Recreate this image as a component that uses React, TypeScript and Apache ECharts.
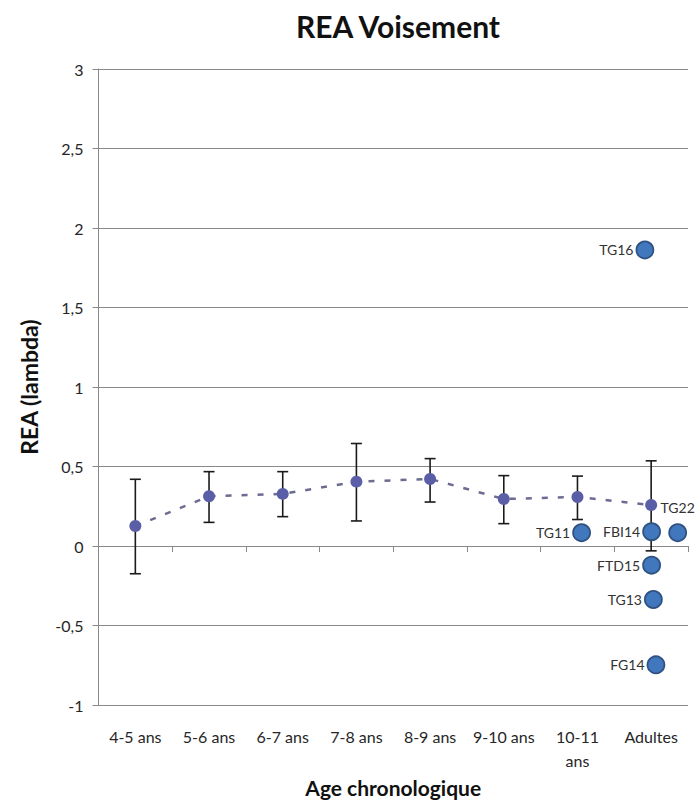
import React, { useEffect, useRef } from "react";
import * as echarts from "echarts";

const categories = ["4-5 ans", "5-6 ans", "6-7 ans", "7-8 ans", "8-9 ans", "9-10 ans", "10-11 ans", "Adultes"];
const means = [0.126, 0.313, 0.328, 0.405, 0.422, 0.296, 0.309, 0.258];
const upperBars = [0.42, 0.468, 0.468, 0.645, 0.55, 0.443, 0.44, 0.536];
const lowerBars = [-0.174, 0.149, 0.185, 0.158, 0.277, 0.141, 0.167, -0.03];

const individualNames = ["TG16", "TG11", "FBI14", "TG22", "FTD15", "TG13", "FG14"];
// x in category units (category i spans i..i+1)
const individualX = [7.415, 6.556, 7.506, 7.86, 7.506, 7.53, 7.565];
const individualY = [1.862, 0.084, 0.09, 0.084, -0.12, -0.336, -0.747];

const yTicks = { min: -1, max: 3, interval: 0.5 };

const FONT = "Lato, 'Open Sans', sans-serif";
const GRID_COLOR = "#898989";

export default function App() {
  const ref = useRef<HTMLDivElement>(null);

  useEffect(() => {
    document.body.style.margin = "0";
    if (!ref.current) return;
    const chart = echarts.init(ref.current, null, { renderer: "svg" });

    const errorData = categories.map((c, i) => [i, lowerBars[i], upperBars[i]]);
    const scatterData = individualNames.map((n, i) => ({
      name: n,
      value: [individualX[i], individualY[i]],
      label: n === "TG22" ? { position: "top", distance: 9 } : { position: "left", distance: 2 },
    }));

    chart.setOption({
      animation: false,
      backgroundColor: "#ffffff",
      title: {
        text: "REA Voisement",
        left: 393,
        top: 6,
        textAlign: "center",
        textStyle: { fontFamily: FONT, fontWeight: "bold", fontSize: 30, color: "#111" },
      },
      grid: { left: 98.5, right: 8, top: 69, bottom: 92, containLabel: false },
      xAxis: [
        {
          type: "category",
          data: categories,
          position: "bottom",
          boundaryGap: true,
          axisLine: { show: true, onZero: true, lineStyle: { color: GRID_COLOR, width: 1 } },
          axisTick: { show: true, length: 6, lineStyle: { color: GRID_COLOR } },
          axisLabel: { show: false },
          splitLine: { show: false },
        },
        {
          type: "category",
          data: categories,
          position: "bottom",
          boundaryGap: true,
          axisLine: { show: false, onZero: false },
          axisTick: { show: false },
          splitLine: { show: false },
          axisLabel: {
            show: true,
            interval: 0,
            margin: 19,
            fontFamily: FONT,
            fontSize: 16,
            lineHeight: 24,
            color: "#262626",
            formatter: (v: string) => (v === "10-11 ans" ? "10-11\nans" : v),
          },
          name: "Age chronologique",
          nameLocation: "middle",
          nameGap: 67,
          nameTextStyle: { fontFamily: FONT, fontWeight: "bold", fontSize: 21, color: "#111" },
        },
        {
          type: "value",
          min: 0,
          max: categories.length,
          show: false,
          position: "bottom",
        },
      ],
      yAxis: {
        type: "value",
        min: yTicks.min,
        max: yTicks.max,
        interval: yTicks.interval,
        axisLine: { show: true, lineStyle: { color: GRID_COLOR, width: 1 } },
        axisTick: { show: true, length: 6, lineStyle: { color: GRID_COLOR } },
        splitLine: { show: true, lineStyle: { color: GRID_COLOR, width: 1 } },
        axisLabel: {
          margin: 15,
          fontFamily: FONT,
          fontSize: 16,
          color: "#262626",
          formatter: (v: number) => String(v).replace(".", ","),
        },
        name: "REA (lambda)",
        nameLocation: "middle",
        nameRotate: 90,
        nameGap: 58,
        nameTextStyle: { fontFamily: FONT, fontWeight: "bold", fontSize: 23, color: "#111" },
      },
      series: [
        {
          type: "custom",
          xAxisIndex: 0,
          yAxisIndex: 0,
          z: 2,
          data: errorData,
          renderItem: (params: any, api: any) => {
            const i = api.value(0);
            const lo = api.coord([i, api.value(1)]);
            const hi = api.coord([i, api.value(2)]);
            const cap = 5.5;
            const style = { stroke: "#1a1a1a", lineWidth: 1.6 };
            return {
              type: "group",
              children: [
                { type: "line", shape: { x1: lo[0], y1: lo[1], x2: hi[0], y2: hi[1] }, style },
                { type: "line", shape: { x1: hi[0] - cap, y1: hi[1], x2: hi[0] + cap, y2: hi[1] }, style },
                { type: "line", shape: { x1: lo[0] - cap, y1: lo[1], x2: lo[0] + cap, y2: lo[1] }, style },
              ],
            };
          },
        },
        {
          type: "line",
          xAxisIndex: 0,
          yAxisIndex: 0,
          z: 3,
          data: means,
          symbol: "circle",
          symbolSize: 12,
          lineStyle: { color: "#6c6c92", width: 2.5, type: [6, 10] },
          itemStyle: { color: "#5a5ea6", borderWidth: 0, opacity: 1 },
        },
        {
          type: "scatter",
          xAxisIndex: 2,
          yAxisIndex: 0,
          z: 4,
          data: scatterData,
          symbolSize: 17,
          itemStyle: { color: "#4177bd", borderColor: "#2f5282", borderWidth: 1.8, opacity: 1 },
          label: {
            show: true,
            formatter: "{b}",
            fontFamily: FONT,
            fontSize: 14,
            color: "#333",
          },
        },
      ],
    });

    return () => chart.dispose();
  }, []);

  return <div ref={ref} style={{ width: 696, height: 803 }} />;
}
